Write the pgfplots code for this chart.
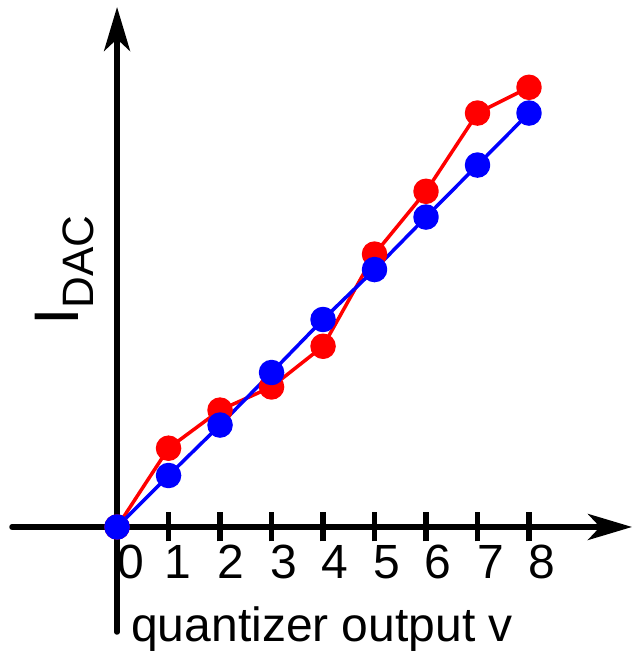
\documentclass[border=0pt]{standalone}
\usepackage{pgfplots}
\pgfplotsset{compat=1.18}
\usepackage{fontspec}
\setmainfont{Liberation Sans}
\usetikzlibrary{arrows.meta}
\begin{document}
\begin{tikzpicture}
\useasboundingbox (0,0) rectangle (633pt,652pt);
\begin{axis}[
  at={(12pt,20pt)}, anchor=south west,
  scale only axis, width=620pt, height=625pt,
  xmin=-2.04, xmax=10.0, ymin=-2.04, ymax=10.1,
  axis lines=middle,
  axis line style={black, line width=5.5pt, line cap=round, -{Stealth[length=44pt,width=26pt,inset=12pt]}},
  xtick={1,2,3,4,5,6,7,8}, xticklabels={}, ytick=\empty,
  tick align=center, major tick length=29pt,
  tick style={black, line width=5.5pt},
  clip=false,
]
\addplot[red, line width=3.5pt, line join=round, mark=*, mark size=11pt,
  mark options={draw=none, fill=red}]
  coordinates {(0,0) (1,1.53) (2,2.27) (3,2.72) (4,3.51) (5,5.30) (6,6.52) (7,8.04) (8,8.54)};
\addplot[blue, line width=3.5pt, line join=round, mark=*, mark size=11pt,
  mark options={draw=none, fill=blue}]
  coordinates {(0,0) (1,1.0) (2,1.98) (3,3.0) (4,4.03) (5,5.0) (6,6.02) (7,7.03) (8,8.04)};
\tikzset{tl/.style={anchor=base, inner sep=0pt, font=\fontsize{48}{48}\selectfont}}
\node[tl] at ([xshift=14pt,yshift=-52pt]axis cs:0,0) {0};
\node[tl] at ([xshift=9pt,yshift=-52pt]axis cs:1,0) {1};
\node[tl] at ([xshift=11pt,yshift=-52pt]axis cs:2,0) {2};
\node[tl] at ([xshift=12pt,yshift=-52pt]axis cs:3,0) {3};
\node[tl] at ([xshift=12pt,yshift=-52pt]axis cs:4,0) {4};
\node[tl] at ([xshift=12pt,yshift=-52pt]axis cs:5,0) {5};
\node[tl] at ([xshift=12pt,yshift=-52pt]axis cs:6,0) {6};
\node[tl] at ([xshift=13pt,yshift=-52pt]axis cs:7,0) {7};
\node[tl] at ([xshift=13pt,yshift=-52pt]axis cs:8,0) {8};
\node[anchor=base west, inner sep=0pt, font=\fontsize{48}{48}\selectfont]
  at ([xshift=14pt,yshift=-115pt]axis cs:0,0) {quantizer output v};
\node[anchor=base west, inner sep=0pt, rotate=90]
  at ([xshift=-39pt,yshift=201pt]axis cs:0,0)
  {{\fontsize{63}{63}\selectfont I}\raisebox{-15pt}{\fontsize{44}{44}\selectfont DAC}};
\end{axis}
\end{tikzpicture}
\end{document}
